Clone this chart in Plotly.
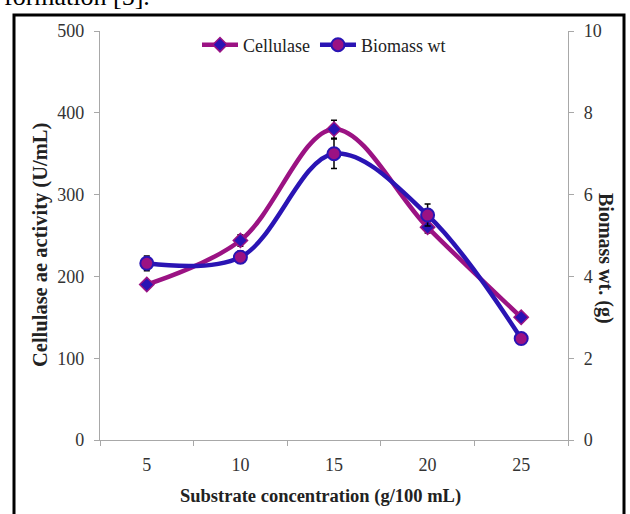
import plotly.graph_objects as go

categories = ["5", "10", "15", "20", "25"]
cellulase = [190, 244, 380, 260, 150]
cellulase_err = [4, 7, 11, 7, 4]
biomass = [4.32, 4.47, 7.0, 5.5, 2.48]
biomass_err = [0.18, 0.15, 0.36, 0.27, 0.08]

MAG = "#9B1283"
BLUE = "#2A14B4"
FONT = "Liberation Serif"

L, R, T, B = 100, 62, 31, 74
PW, PH = 630 - L - R, 514 - T - B


def px(x):
    return (x - L) / PW


def py(y):
    return (514 - B - y) / PH


fig = go.Figure()
fig.add_trace(go.Scatter(
    x=categories, y=cellulase, name="Cellulase", mode="lines+markers",
    line=dict(color=MAG, width=4.5, shape="spline", smoothing=1.0),
    marker=dict(symbol="diamond", size=11, color=BLUE, line=dict(color=MAG, width=1.5)),
    error_y=dict(type="data", array=cellulase_err, color="black", thickness=1.5, width=3),
))
fig.add_trace(go.Scatter(
    x=categories, y=biomass, name="Biomass wt", mode="lines+markers", yaxis="y2",
    line=dict(color=BLUE, width=4.5, shape="spline", smoothing=1.0),
    marker=dict(symbol="circle", size=13, color=MAG, line=dict(color=BLUE, width=2)),
    error_y=dict(type="data", array=biomass_err, color="black", thickness=1.5, width=3),
))

axis_common = dict(
    showline=True, linecolor="#A8A8A8", linewidth=1.2, ticks="outside",
    tickcolor="#A8A8A8", ticklen=5, showgrid=False, zeroline=False, automargin=False,
    tickfont=dict(family=FONT, size=18, color="#333333"),
)

fig.update_layout(
    width=630, height=514,
    margin=dict(l=L, r=R, t=T, b=B, autoexpand=False),
    paper_bgcolor="white", plot_bgcolor="white",
    font=dict(family=FONT, color="#222222"),
    showlegend=True,
    legend=dict(orientation="h", x=px(324), xanchor="center", y=py(45), yanchor="middle",
                font=dict(family=FONT, size=18, color="#222222"),
                bgcolor="rgba(0,0,0,0)", itemwidth=36, tracegroupgap=0),
    xaxis=dict(**axis_common, type="category", tickson="boundaries", range=[-0.5, 4.5],
               ticklabelstandoff=8),
    yaxis=dict(**axis_common, range=[0, 500], dtick=100, ticklabelstandoff=6),
    yaxis2=dict(**axis_common, range=[0, 10], dtick=2, overlaying="y", side="right",
                ticklabelstandoff=6),
)

fig.add_annotation(text="<b>Substrate concentration (g/100 mL)</b>", xref="paper", yref="paper",
                   x=px(320), y=py(496), xanchor="center", yanchor="middle",
                   showarrow=False, font=dict(family=FONT, size=18.5, color="#222222"))
fig.add_annotation(text="<b>Cellulase ae activity (U/mL)</b>", xref="paper", yref="paper",
                   x=px(40), y=py(245), xanchor="center", yanchor="middle", textangle=-90,
                   showarrow=False, font=dict(family=FONT, size=20.5, color="#222222"))
fig.add_annotation(text="<b>Biomass wt. (g)</b>", xref="paper", yref="paper",
                   x=px(606), y=py(258), xanchor="center", yanchor="middle", textangle=90,
                   showarrow=False, font=dict(family=FONT, size=20, color="#222222"))

# outer black frame of the figure image
fig.add_shape(type="rect", xref="paper", yref="paper",
              x0=px(14), x1=px(624), y0=py(530), y1=py(15),
              line=dict(color="black", width=3), fillcolor="rgba(0,0,0,0)", layer="above")

# partially visible caption text above the frame
fig.add_annotation(text="formation [5].", xref="paper", yref="paper",
                   x=px(2), xanchor="left", y=py(13), yanchor="bottom",
                   showarrow=False, font=dict(family=FONT, size=26, color="black"))

fig.write_html("out.html", config={"displayModeBar": False},
               post_script="document.body.style.margin='0';")
